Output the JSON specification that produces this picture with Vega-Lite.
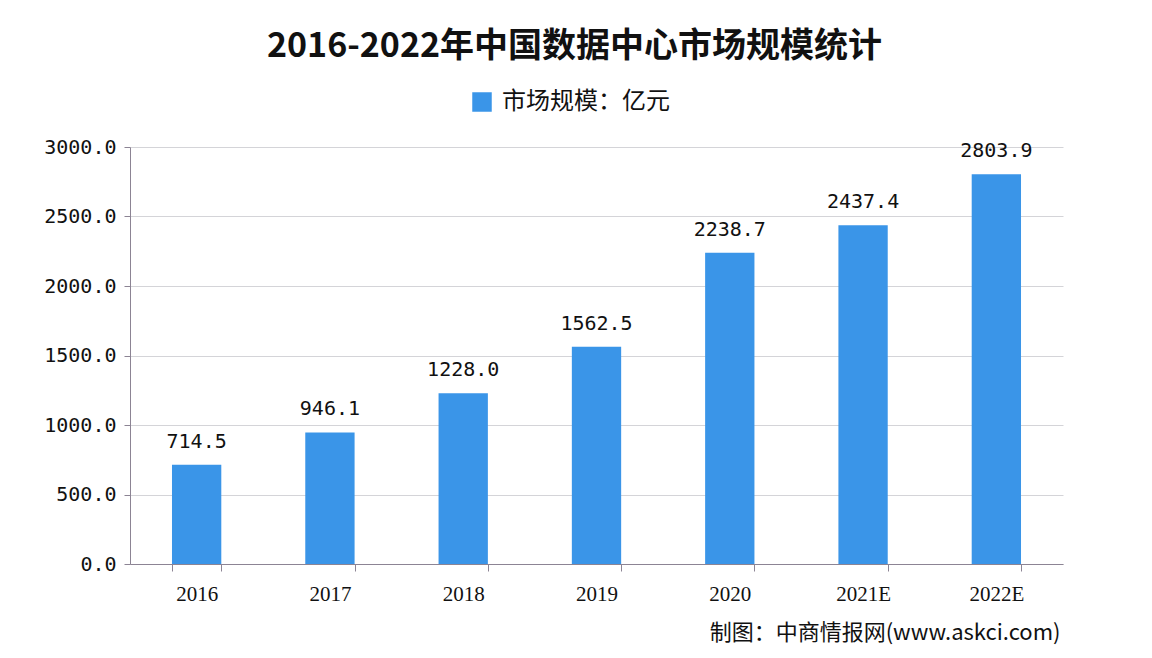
{
  "$schema": "https://vega.github.io/schema/vega-lite/v6.json",
  "width": 933,
  "height": 417,
  "autosize": {"type": "none"},
  "padding": {"left": 130, "top": 147, "right": 89, "bottom": 94},
  "background": "#ffffff",
  "config": {"view": {"stroke": null}},
  "title": {
    "text": "2016-2022年中国数据中心市场规模统计",
    "anchor": "middle",
    "offset": 26,
    "dx": -22,
    "fontSize": 34,
    "font": "Noto Sans CJK SC",
    "fontWeight": "bold",
    "color": "#111111"
  },
  "data": {
    "values": [
      {"year": "2016", "value": 714.5, "series": "市场规模：亿元"},
      {"year": "2017", "value": 946.1, "series": "市场规模：亿元"},
      {"year": "2018", "value": 1228.0, "series": "市场规模：亿元"},
      {"year": "2019", "value": 1562.5, "series": "市场规模：亿元"},
      {"year": "2020", "value": 2238.7, "series": "市场规模：亿元"},
      {"year": "2021E", "value": 2437.4, "series": "市场规模：亿元"},
      {"year": "2022E", "value": 2803.9, "series": "市场规模：亿元"}
    ]
  },
  "encoding": {
    "x": {
      "field": "year",
      "type": "nominal",
      "sort": null,
      "scale": {"paddingInner": 0.63, "paddingOuter": 0.315},
      "axis": {
        "title": "制图：中商情报网(www.askci.com)",
        "titleAnchor": "end",
        "titleAlign": "right",
        "titleX": 930,
        "titleY": 58,
        "titleFont": "Noto Sans CJK SC",
        "titleFontSize": 22,
        "titleFontWeight": "normal",
        "titleColor": "#111111",
        "labelAngle": 0,
        "labelFont": "Liberation Serif",
        "labelFontSize": 21,
        "labelColor": "#111111",
        "labelPadding": 12,
        "domainColor": "#8c8494",
        "tickColor": "#8c8494",
        "tickBand": "extent",
        "tickSize": 7,
        "grid": false
      }
    },
    "y": {
      "field": "value",
      "type": "quantitative",
      "scale": {"domain": [0, 3000]},
      "axis": {
        "title": null,
        "values": [0, 500, 1000, 1500, 2000, 2500, 3000],
        "format": ".1f",
        "labelFont": "DejaVu Sans Mono",
        "labelFontSize": 20,
        "labelColor": "#111111",
        "labelPadding": 8,
        "domainColor": "#8c8494",
        "tickColor": "#8c8494",
        "tickSize": 6,
        "gridColor": "#d4d4d8",
        "gridWidth": 1
      }
    }
  },
  "layer": [
    {
      "mark": {"type": "bar", "color": "#3a95e8"},
      "encoding": {
        "color": {
          "field": "series",
          "type": "nominal",
          "scale": {"range": ["#3a95e8"]},
          "legend": {
            "title": null,
            "orient": "none",
            "legendX": 340,
            "legendY": -57,
            "symbolType": "square",
            "symbolSize": 380,
            "symbolStrokeWidth": 0,
            "labelFont": "Noto Sans CJK SC",
            "labelFontSize": 24,
            "labelColor": "#111111",
            "labelOffset": 8,
            "labelLimit": 400
          }
        }
      }
    },
    {
      "mark": {"type": "text", "baseline": "bottom", "dy": -13, "font": "DejaVu Sans Mono", "fontSize": 20, "color": "#111111"},
      "encoding": {
        "text": {"field": "value", "type": "quantitative", "format": ".1f"}
      }
    }
  ]
}
